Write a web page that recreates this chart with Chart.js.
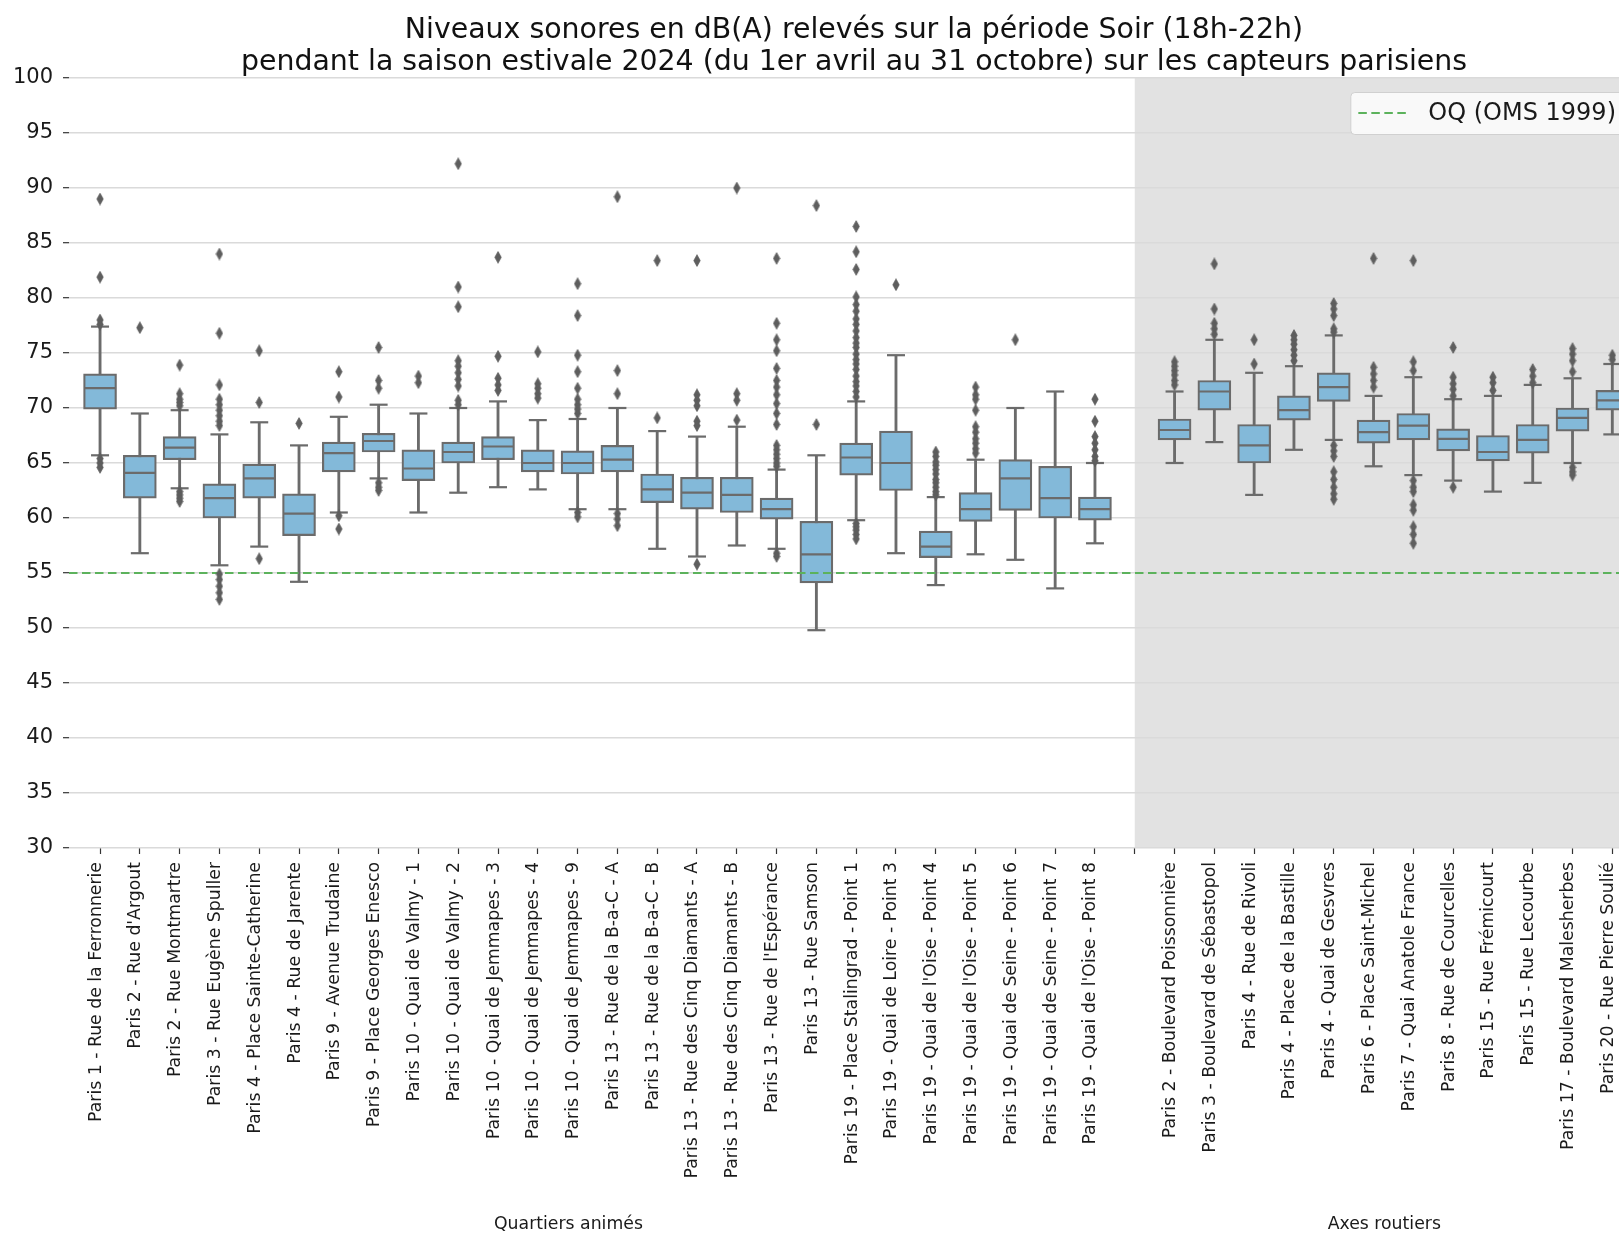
<!DOCTYPE html>
<html>
<head>
<meta charset="utf-8">
<script src="https://cdn.jsdelivr.net/npm/chart.js@4.4.1/dist/chart.umd.min.js"></script>
<style>
html,body{margin:0;padding:0;background:#ffffff;overflow:hidden;}
#wrap{width:1660px;height:1233px;}
canvas{display:block;}
</style>
</head>
<body>
<div id="wrap"><canvas id="c" width="1660" height="1233" style="width:1660px;height:1233px"></canvas></div>
<script>
// ---------------- DATA ----------------
const titleLines = [
  "Niveaux sonores en dB(A) relevés sur la période Soir (18h-22h)",
  "pendant la saison estivale 2024 (du 1er avril au 31 octobre) sur les capteurs parisiens"
];
const categories = [
  "Paris 1 - Rue de la Ferronnerie",
  "Paris 2 - Rue d'Argout",
  "Paris 2 - Rue Montmartre",
  "Paris 3 - Rue Eugène Spuller",
  "Paris 4 - Place Sainte-Catherine",
  "Paris 4 - Rue de Jarente",
  "Paris 9 - Avenue Trudaine",
  "Paris 9 - Place Georges Enesco",
  "Paris 10 - Quai de Valmy - 1",
  "Paris 10 - Quai de Valmy - 2",
  "Paris 10 - Quai de Jemmapes - 3",
  "Paris 10 - Quai de Jemmapes - 4",
  "Paris 10 - Quai de Jemmapes - 9",
  "Paris 13 - Rue de la B-a-C - A",
  "Paris 13 - Rue de la B-a-C - B",
  "Paris 13 - Rue des Cinq Diamants - A",
  "Paris 13 - Rue des Cinq Diamants - B",
  "Paris 13 - Rue de l'Espérance",
  "Paris 13 - Rue Samson",
  "Paris 19 - Place Stalingrad - Point 1",
  "Paris 19 - Quai de Loire - Point 3",
  "Paris 19 - Quai de l'Oise - Point 4",
  "Paris 19 - Quai de l'Oise - Point 5",
  "Paris 19 - Quai de Seine - Point 6",
  "Paris 19 - Quai de Seine - Point 7",
  "Paris 19 - Quai de l'Oise - Point 8",
  "",
  "Paris 2 - Boulevard Poissonnière",
  "Paris 3 - Boulevard de Sébastopol",
  "Paris 4 - Rue de Rivoli",
  "Paris 4 - Place de la Bastille",
  "Paris 4 - Quai de Gesvres",
  "Paris 6 - Place Saint-Michel",
  "Paris 7 - Quai Anatole France",
  "Paris 8 - Rue de Courcelles",
  "Paris 15 - Rue Frémicourt",
  "Paris 15 - Rue Lecourbe",
  "Paris 17 - Boulevard Malesherbes",
  "Paris 20 - Rue Pierre Soulié"
];
const groupNames = ["Quartiers animés", "Axes routiers"];
const groupLabelAt = [11.77, 32.27];     // x position (in category units) of the group captions
const routierStart = 26;                 // grey band start (category units)

const whiskerLow  = [65.7,56.8,62.7,55.7,57.4,54.2,60.5,63.6,60.5,62.3,62.8,62.6,60.8,60.8,57.2,56.5,57.5,57.2,49.8,59.8,56.8,53.9,56.7,56.2,53.6,57.7,null,65.0,66.9,62.1,66.2,67.1,64.7,63.9,63.4,62.4,63.2,65.0,67.6];
const quart1      = [69.9,61.8,65.3,60.0,61.8,58.4,64.2,66.0,63.4,65.0,65.3,64.2,64.0,64.2,61.4,60.8,60.5,59.9,54.1,63.9,62.5,56.4,59.7,60.7,60.0,59.8,null,67.1,69.8,65.0,68.9,70.6,66.8,67.1,66.1,65.2,65.9,67.9,69.8];
const medians     = [71.8,64.1,66.4,61.8,63.6,60.4,65.9,67.0,64.5,66.0,66.5,65.0,65.0,65.3,62.6,62.3,62.1,60.8,56.7,65.5,65.0,57.4,60.8,63.6,61.8,60.8,null,68.0,71.5,66.6,69.8,71.9,67.8,68.4,67.2,66.0,67.1,69.1,70.7];
const quart3      = [73.1,65.7,67.4,63.1,64.9,62.2,66.9,67.7,66.2,66.9,67.4,66.2,66.1,66.6,64.0,63.7,63.7,61.8,59.7,66.8,67.9,58.8,62.3,65.3,64.7,61.9,null,69.0,72.5,68.5,71.1,73.2,68.9,69.5,68.1,67.5,68.5,70.0,71.6];
const whiskerHigh = [77.4,69.5,69.8,67.6,68.7,66.6,69.2,70.3,69.5,70.0,70.6,68.9,69.0,70.0,67.9,67.4,68.3,64.4,65.7,70.6,74.8,61.9,65.3,70.0,71.5,65.0,null,71.5,76.2,73.2,73.8,76.6,71.1,72.8,70.8,71.1,72.1,72.7,74.0];
const outliers = [
  [89.0,81.9,78.0,77.6,65.4,65.0,64.6],
  [77.3],
  [73.9,71.3,70.8,70.5,70.2,62.4,62.1,61.8,61.5],
  [84.0,76.8,72.1,70.8,70.3,69.8,69.3,68.8,68.4,54.9,54.4,53.8,53.2,52.6],
  [75.2,70.5,56.3],
  [68.6],
  [73.3,71.0,60.2,59.0],
  [75.5,72.5,71.8,63.2,62.8,62.5],
  [72.9,72.3],
  [92.2,81.0,79.2,74.3,73.8,73.2,72.6,72.0,70.7,70.3],
  [83.7,74.7,72.7,72.1,71.6],
  [75.1,72.2,71.8,71.3,70.9],
  [81.3,78.4,74.8,73.3,71.8,70.8,70.3,69.9,69.5,60.5,60.1],
  [89.2,73.4,71.3,60.4,59.9,59.3],
  [83.4,69.1],
  [83.4,71.2,70.7,70.2,68.8,68.4,55.8],
  [90.0,71.3,70.7,68.9],
  [83.6,77.7,76.2,75.2,73.6,72.5,71.9,71.2,70.4,69.5,68.5,66.6,66.2,65.8,65.4,65.0,64.7,56.8,56.5],
  [88.4,68.5],
  [86.5,84.2,82.6,80.1,79.4,78.8,78.1,77.6,77.0,76.4,75.9,75.5,74.9,74.4,74.0,73.5,72.9,72.4,72.0,71.5,71.0,59.5,59.2,58.9,58.5,58.1],
  [81.2],
  [66.0,65.6,65.1,64.8,64.4,64.0,63.5,63.2,62.8,62.4,62.1],
  [71.9,71.2,70.8,69.8,68.3,67.8,67.2,66.8,66.3,65.9],
  [76.2],
  [],
  [70.8,68.8,67.4,66.8,66.2,65.6,65.2],
  [],
  [74.2,73.8,73.4,73.0,72.5,72.1],
  [83.1,79.0,77.7,77.2,76.7],
  [76.2,74.0],
  [76.6,76.2,75.8,75.3,74.8,74.3],
  [79.5,79.0,78.4,77.2,76.9,66.6,66.1,65.6,64.2,63.5,62.8,62.2,61.7],
  [83.6,73.7,73.1,72.5,71.9],
  [83.4,74.2,73.4,63.4,62.8,62.4,61.2,60.7,59.2,58.5,57.7],
  [75.5,72.8,72.2,71.7,71.1,62.8],
  [72.8,72.3,71.6],
  [73.5,72.9,72.3],
  [75.4,74.9,74.3,73.3,64.6,64.2,63.9],
  [74.8,74.4]
];
const oqValue = 55;
const oqLabel = "OQ (OMS 1999)";
const yTicks = {min: 30, max: 100, step: 5};

// ---------------- STYLE ----------------
const FONT = '"DejaVu Sans", "Liberation Sans", sans-serif';
const GRAY = '#6b6b6b';
const BOX = '#83b9d9';
const GREEN = '#5cb25c';
const BAND = '#e2e2e2';
const X_MIN = -0.78, X_MAX = 38.57;

Chart.defaults.font.family = FONT;

// thin diamond marker (matplotlib 'd')
const diamond = document.createElement('canvas');
diamond.width = 8; diamond.height = 13;
(function(){
  const c = diamond.getContext('2d');
  c.fillStyle = '#5e5e5e';
  c.strokeStyle = '#5e5e5e';
  c.lineWidth = 0.8;
  c.beginPath();
  c.moveTo(4, 0.7); c.lineTo(7.2, 6.5); c.lineTo(4, 12.3); c.lineTo(0.8, 6.5); c.closePath();
  c.fill();
  c.stroke();
})();

// ---------------- DATASETS ----------------
const idx = categories.map((_, i) => i).filter(i => quart1[i] !== null);
const boxData = idx.map(i => ({x: i, y: [quart1[i], quart3[i]]}));
const whiskData = idx.map(i => ({x: i, y: [whiskerLow[i], whiskerHigh[i]]}));
const medData = idx.map(i => ({x: i, y: medians[i]}));
const capData = [];
idx.forEach(i => { capData.push({x: i, y: whiskerLow[i]}); capData.push({x: i, y: whiskerHigh[i]}); });
const outData = [];
outliers.forEach((arr, i) => arr.forEach(v => outData.push({x: i, y: v})));

// ---------------- PLUGINS ----------------
const bandPlugin = {
  id: 'band',
  beforeDraw(chart) {
    const {ctx, chartArea, scales} = chart;
    const x0 = scales.x.getPixelForValue(routierStart);
    ctx.save();
    ctx.fillStyle = BAND;
    ctx.fillRect(x0, chartArea.top, chartArea.right - x0, chartArea.bottom - chartArea.top);
    ctx.restore();
  }
};
const textPlugin = {
  id: 'texts',
  afterDraw(chart) {
    const {ctx, chartArea, scales} = chart;
    ctx.save();
    // title
    ctx.fillStyle = '#111';
    ctx.font = '28.4px ' + FONT;
    ctx.textAlign = 'center';
    ctx.textBaseline = 'alphabetic';
    const cx = (chartArea.left + chartArea.right) / 2 + 2;
    ctx.fillText(titleLines[0], cx, 37.5);
    ctx.fillText(titleLines[1], cx, 69.5);
    // group captions
    ctx.font = '17.3px ' + FONT;
    ctx.fillStyle = '#1a1a1a';
    groupNames.forEach((g, k) => ctx.fillText(g, scales.x.getPixelForValue(groupLabelAt[k]), 1228.5));
    // legend
    ctx.font = '24px ' + FONT;
    const tw = ctx.measureText(oqLabel).width;
    const boxRight = chartArea.right - 9;
    const textX = boxRight - 10 - tw;
    const lineEnd = textX - 20, lineStart = lineEnd - 50;
    const boxLeft = lineStart - 8;
    const top = chartArea.top + 14, h = 42;
    ctx.beginPath();
    ctx.roundRect(boxLeft + 0.5, top + 0.5, boxRight - boxLeft, h, 4);
    ctx.fillStyle = 'rgba(255,255,255,0.8)';
    ctx.fill();
    ctx.strokeStyle = '#d0d0d0';
    ctx.lineWidth = 1;
    ctx.stroke();
    ctx.beginPath();
    ctx.setLineDash([8.5, 4.5]);
    ctx.strokeStyle = GREEN;
    ctx.lineWidth = 2;
    ctx.moveTo(lineStart, top + h / 2);
    ctx.lineTo(lineEnd, top + h / 2);
    ctx.stroke();
    ctx.setLineDash([]);
    ctx.fillStyle = '#1a1a1a';
    ctx.textAlign = 'left';
    ctx.textBaseline = 'middle';
    ctx.fillText(oqLabel, textX, top + h / 2 + 1);
    ctx.restore();
  }
};

// ---------------- CHART ----------------
new Chart(document.getElementById('c'), {
  type: 'bar',
  data: {
    datasets: [
      {type: 'scatter', label: 'outliers', data: outData, order: 0,
       pointStyle: diamond, pointRadius: 6, pointHoverRadius: 6},
      {type: 'line', label: oqLabel, data: [{x: X_MIN, y: oqValue}, {x: X_MAX, y: oqValue}], order: 1,
       borderColor: GREEN, borderWidth: 1.8, borderDash: [8.5, 4.5], pointRadius: 0, fill: false},
      {type: 'scatter', label: 'medians', data: medData, order: 2,
       pointStyle: 'line', pointRadius: 16, pointBorderWidth: 2.2, pointBorderColor: GRAY, pointBackgroundColor: GRAY},
      {type: 'scatter', label: 'caps', data: capData, order: 3,
       pointStyle: 'line', pointRadius: 9, pointBorderWidth: 2.2, pointBorderColor: GRAY, pointBackgroundColor: GRAY},
      {type: 'bar', label: 'boxes', data: boxData, order: 4, grouped: false,
       barThickness: 33, backgroundColor: BOX, borderColor: GRAY, borderWidth: 2.2, borderSkipped: false},
      {type: 'bar', label: 'whiskers', data: whiskData, order: 5, grouped: false,
       barThickness: 2.2, backgroundColor: GRAY, borderWidth: 0}
    ]
  },
  options: {
    responsive: false,
    animation: false,
    events: [],
    layout: {padding: {left: 0, right: 25, top: 78, bottom: 0}},
    plugins: {legend: {display: false}, title: {display: false}, tooltip: {enabled: false}},
    scales: {
      x: {
        type: 'linear', min: X_MIN, max: X_MAX, offset: false,
        grid: {offset: false, drawOnChartArea: false, drawTicks: true, tickLength: 6, tickColor: '#333', tickWidth: 1.2},
        border: {display: false},
        afterBuildTicks: s => { s.ticks = categories.map((_, i) => ({value: i})); },
        afterFit: s => { s.height = 385; s.paddingLeft = 0; s.paddingRight = 0; },
        ticks: {autoSkip: false, maxRotation: 90, minRotation: 90, padding: 8, labelOffset: -4,
                color: '#1a1a1a', font: {size: 17.3}, callback: v => categories[v] !== undefined ? categories[v] : ''}
      },
      y: {
        min: yTicks.min, max: yTicks.max,
        ticks: {stepSize: yTicks.step, padding: 10, color: '#1a1a1a', font: {size: 21}},
        grid: {color: '#dadada', lineWidth: 1.4, tickColor: '#333', tickLength: 6, tickWidth: 1.2},
        border: {display: false},
        afterFit: s => { s.width = 69; s.paddingTop = 0; s.paddingBottom = 0; }
      }
    }
  },
  plugins: [bandPlugin, textPlugin]
});
</script>
</body>
</html>
